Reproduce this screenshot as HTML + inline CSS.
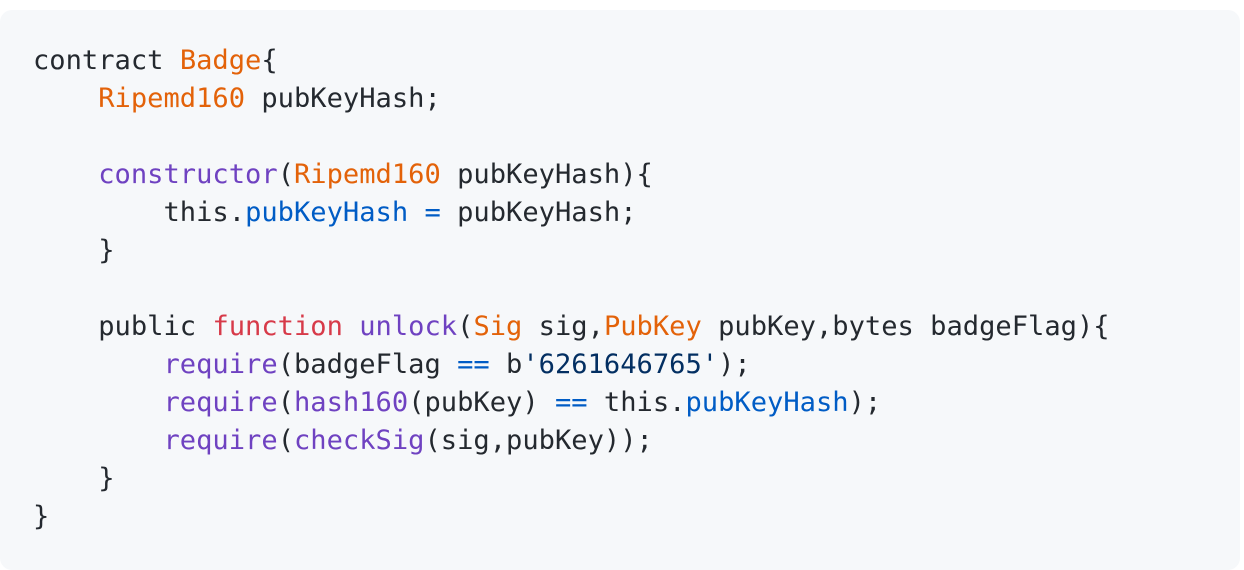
<!DOCTYPE html>
<html><head><style>
html,body{margin:0;padding:0;background:#fff;width:1244px;height:560px;overflow:hidden}
.box{position:absolute;left:0;top:10px;width:1240px;height:560px;background:#f6f8fa;border-radius:12px}
pre{position:absolute;left:33px;top:42px;margin:0;font-family:"DejaVu Sans Mono","Liberation Mono",monospace;font-size:27.1px;line-height:38px;color:#24292f}
.o{color:#e36209}.p{color:#6f42c1}.b{color:#005cc5}.s{color:#032f62}.r{color:#d73a49}
</style></head><body>
<div class="box"></div>
<pre>contract <span class="o">Badge</span>{
    <span class="o">Ripemd160</span> pubKeyHash;

    <span class="p">constructor</span>(<span class="o">Ripemd160</span> pubKeyHash){
        this.<span class="b">pubKeyHash</span> <span class="b">=</span> pubKeyHash;
    }

    public <span class="r">function</span> <span class="p">unlock</span>(<span class="o">Sig</span> sig,<span class="o">PubKey</span> pubKey,bytes badgeFlag){
        <span class="p">require</span>(badgeFlag <span class="b">==</span> b<span class="s">'6261646765'</span>);
        <span class="p">require</span>(<span class="p">hash160</span>(pubKey) <span class="b">==</span> this.<span class="b">pubKeyHash</span>);
        <span class="p">require</span>(<span class="p">checkSig</span>(sig,pubKey));
    }
}</pre>
</body></html>
